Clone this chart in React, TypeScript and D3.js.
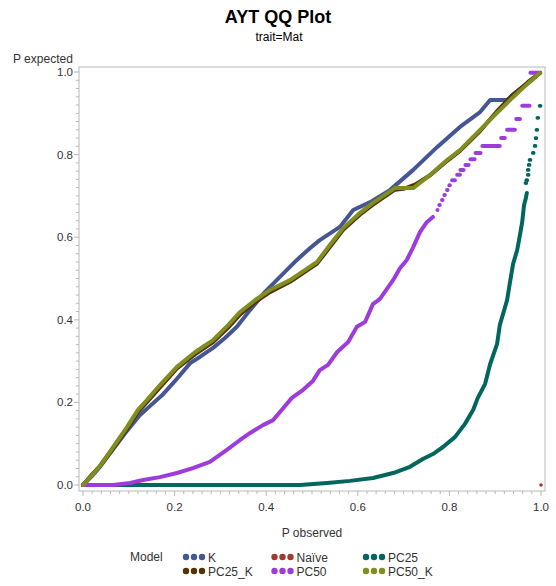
import React from "react";
import * as d3 from "d3";

const W = 556;
const H = 586;

const titleText = "AYT QQ Plot";
const subtitleText = "trait=Mat";
const xLabel = "P observed";
const yLabel = "P expected";
const tickValues = [0, 0.2, 0.4, 0.6, 0.8, 1.0];
const tickLabels = ["0.0", "0.2", "0.4", "0.6", "0.8", "1.0"];

const models = ["K", "Naïve", "PC25", "PC25_K", "PC50", "PC50_K"];
const modelColors = ["#445694", "#A23A2E", "#01665E", "#543005", "#9D3CDB", "#7F8E1F"];

// [P observed, P expected]
const seriesK: [number, number][] = [
  [0, 0], [0.02, 0.022], [0.037, 0.044], [0.066, 0.087], [0.096, 0.131], [0.124, 0.169],
  [0.146, 0.191], [0.175, 0.22], [0.201, 0.252], [0.234, 0.295], [0.255, 0.31], [0.284, 0.332],
  [0.31, 0.356], [0.336, 0.383], [0.365, 0.424], [0.397, 0.467], [0.43, 0.504], [0.467, 0.545],
  [0.496, 0.574], [0.517, 0.593], [0.561, 0.625], [0.59, 0.666], [0.627, 0.685], [0.67, 0.714],
  [0.721, 0.763], [0.773, 0.818], [0.823, 0.867], [0.867, 0.903], [0.889, 0.932], [0.926, 0.932],
  [0.943, 0.949], [0.972, 0.973], [0.998, 0.998],
];

const seriesNaive: [number, number][] = [[1.0, 0.0]];

const seriesPC25: [number, number][] = [
  [0, 0], [0.474, 0], [0.533, 0.005], [0.583, 0.01], [0.633, 0.017], [0.677, 0.029],
  [0.714, 0.044], [0.742, 0.063], [0.764, 0.075], [0.786, 0.092], [0.812, 0.116], [0.834, 0.148],
  [0.852, 0.182], [0.862, 0.211], [0.878, 0.245], [0.889, 0.293], [0.904, 0.341], [0.91, 0.387],
  [0.926, 0.448], [0.932, 0.489], [0.939, 0.535], [0.948, 0.569], [0.954, 0.605], [0.959, 0.637],
  [0.963, 0.678], [0.967, 0.695], [0.969, 0.707],
];
const seriesPC25Sparse: [number, number][] = [
  [0.967, 0.731], [0.969, 0.738], [0.972, 0.751], [0.972, 0.763], [0.974, 0.775], [0.976, 0.787],
  [0.983, 0.804], [0.987, 0.821], [0.989, 0.84], [0.991, 0.86], [0.993, 0.889], [0.998, 0.918],
];

const seriesPC25K: [number, number][] = [
  [0, 0], [0.02, 0.026], [0.037, 0.046], [0.066, 0.089], [0.096, 0.136], [0.12, 0.177],
  [0.14, 0.201], [0.168, 0.236], [0.205, 0.282], [0.245, 0.317], [0.284, 0.346], [0.317, 0.381],
  [0.343, 0.413], [0.376, 0.443], [0.408, 0.467], [0.452, 0.492], [0.511, 0.536], [0.539, 0.576],
  [0.568, 0.618], [0.605, 0.655], [0.633, 0.679], [0.681, 0.715], [0.703, 0.718], [0.725, 0.727],
  [0.758, 0.75], [0.795, 0.785], [0.823, 0.809], [0.867, 0.857], [0.904, 0.905], [0.939, 0.945],
  [0.972, 0.976], [0.998, 0.998],
];

const seriesPC50: [number, number][] = [
  [0, 0], [0.066, 0], [0.103, 0.005], [0.131, 0.012], [0.168, 0.019], [0.205, 0.029],
  [0.24, 0.041], [0.277, 0.056], [0.314, 0.085], [0.343, 0.109], [0.365, 0.126], [0.393, 0.145],
  [0.415, 0.157], [0.437, 0.186], [0.456, 0.211], [0.48, 0.23], [0.502, 0.252], [0.517, 0.278],
  [0.535, 0.291], [0.555, 0.322], [0.579, 0.346], [0.598, 0.383], [0.616, 0.395], [0.633, 0.438],
  [0.648, 0.45], [0.677, 0.496], [0.692, 0.525], [0.707, 0.545], [0.721, 0.576], [0.736, 0.613],
  [0.751, 0.637], [0.764, 0.649],
];
// tied runs: [P observed first, P observed last, P expected]
const seriesPC50Runs: [number, number, number][] = [
  [0.774, 0.774, 0.666], [0.778, 0.779, 0.678], [0.784, 0.785, 0.69], [0.789, 0.79, 0.702],
  [0.795, 0.796, 0.714], [0.8, 0.801, 0.726], [0.806, 0.812, 0.738], [0.817, 0.823, 0.751],
  [0.824, 0.831, 0.763], [0.835, 0.842, 0.775], [0.846, 0.855, 0.789], [0.857, 0.868, 0.804],
  [0.872, 0.91, 0.821], [0.913, 0.921, 0.84], [0.926, 0.943, 0.86], [0.946, 0.954, 0.886],
  [0.959, 0.975, 0.918], [0.977, 0.997, 0.998],
];

const seriesPC50K: [number, number][] = [
  [0, 0], [0.02, 0.024], [0.037, 0.046], [0.066, 0.092], [0.096, 0.14], [0.12, 0.182],
  [0.14, 0.206], [0.168, 0.242], [0.205, 0.286], [0.245, 0.322], [0.284, 0.351], [0.317, 0.387],
  [0.343, 0.419], [0.376, 0.448], [0.408, 0.472], [0.452, 0.496], [0.511, 0.54], [0.539, 0.581],
  [0.568, 0.622], [0.605, 0.659], [0.633, 0.683], [0.681, 0.719], [0.721, 0.719], [0.758, 0.751],
  [0.795, 0.787], [0.823, 0.811], [0.867, 0.86], [0.904, 0.901], [0.939, 0.939], [0.972, 0.973],
  [0.998, 0.998],
];

const FONT = "'Liberation Sans', Arial, Helvetica, sans-serif";
const FRAME = "#b8b8b8";
const TEXT = "#333333";
const SW = 4;

export default function App() {
  const frame = { left: 79, right: 545, top: 67, bottom: 491 };
  const x = d3.scaleLinear().domain([0, 1]).range([83, 541]);
  const y = d3.scaleLinear().domain([0, 1]).range([485, 72]);
  const line = d3
    .line<[number, number]>()
    .x((d) => x(d[0]))
    .y((d) => y(d[1]));

  const minor = d3.range(0, 1.0001, 0.02).filter((v) => Math.abs(v * 5 - Math.round(v * 5)) > 1e-6);

  const pathProps = (c: string) => ({
    fill: "none",
    stroke: c,
    strokeWidth: SW,
    strokeLinejoin: "round" as const,
    strokeLinecap: "round" as const,
  });

  const legendRows = [
    [0, 1, 2],
    [3, 4, 5],
  ];
  const legendCols = [186, 274.5, 366];
  const legendRowY = [557, 571];

  return (
    <svg
      width={W}
      height={H}
      style={{ position: "absolute", left: 0, top: 0, background: "#fff" }}
      fontFamily={FONT}
    >
      <rect x={0} y={0} width={W} height={H} fill="#fff" />
      <text x={278} y={23} textAnchor="middle" fontSize={18} fontWeight="bold" fill="#000">
        {titleText}
      </text>
      <text x={279} y={41} textAnchor="middle" fontSize={12} fill="#000">
        {subtitleText}
      </text>
      <text x={13} y={63} fontSize={12} fill={TEXT}>
        {yLabel}
      </text>

      {/* frame */}
      <rect
        x={frame.left}
        y={frame.top}
        width={frame.right - frame.left}
        height={frame.bottom - frame.top}
        fill="none"
        stroke={FRAME}
        strokeWidth={1}
      />

      {/* y ticks */}
      {tickValues.map((v, i) => (
        <g key={"yt" + i}>
          <line x1={frame.left - 5} x2={frame.left} y1={y(v)} y2={y(v)} stroke={FRAME} />
          <text x={frame.left - 6} y={y(v) + 4} textAnchor="end" fontSize={11.5} fill={TEXT}>
            {tickLabels[i]}
          </text>
        </g>
      ))}
      {minor.map((v, i) => (
        <line key={"ym" + i} x1={frame.left - 3} x2={frame.left} y1={y(v)} y2={y(v)} stroke={FRAME} />
      ))}

      {/* x ticks */}
      {tickValues.map((v, i) => (
        <g key={"xt" + i}>
          <line x1={x(v)} x2={x(v)} y1={frame.bottom} y2={frame.bottom + 5} stroke={FRAME} />
          <text x={x(v)} y={frame.bottom + 20} textAnchor="middle" fontSize={11.5} fill={TEXT}>
            {tickLabels[i]}
          </text>
        </g>
      ))}
      {minor.map((v, i) => (
        <line key={"xm" + i} x1={x(v)} x2={x(v)} y1={frame.bottom} y2={frame.bottom + 3} stroke={FRAME} />
      ))}
      <text x={312} y={537} textAnchor="middle" fontSize={12} fill={TEXT}>
        {xLabel}
      </text>

      {/* series, drawn in group order */}
      <path d={line(seriesK) || ""} {...pathProps(modelColors[0])} />
      {seriesNaive.map((d, i) => (
        <circle key={"nv" + i} cx={x(d[0])} cy={y(d[1])} r={1.8} fill={modelColors[1]} />
      ))}
      <path d={line(seriesPC25) || ""} {...pathProps(modelColors[2])} />
      {seriesPC25Sparse.map((d, i) => (
        <line
          key={"p25s" + i}
          x1={x(d[0]) - 0.4}
          x2={x(d[0]) + 0.4}
          y1={y(d[1])}
          y2={y(d[1])}
          stroke={modelColors[2]}
          strokeWidth={3.8}
          strokeLinecap="round"
        />
      ))}
      <path d={line(seriesPC25K) || ""} {...pathProps(modelColors[3])} />
      <path d={line(seriesPC50) || ""} {...pathProps(modelColors[4])} />
      {seriesPC50Runs.map((d, i) => (
        <line
          key={"p50r" + i}
          x1={x(d[0])}
          x2={x(d[1])}
          y1={y(d[2])}
          y2={y(d[2])}
          stroke={modelColors[4]}
          strokeWidth={SW}
          strokeLinecap="round"
        />
      ))}
      <path d={line(seriesPC50K) || ""} {...pathProps(modelColors[5])} />

      {/* legend */}
      <text x={130} y={legendRowY[0] + 4} fontSize={12} fill={TEXT}>
        Model
      </text>
      {legendRows.map((row, ri) =>
        row.map((mi, ci) => {
          const cx = legendCols[ci];
          const cy = legendRowY[ri];
          return (
            <g key={"lg" + mi}>
              {[0, 8, 16].map((dx) => (
                <circle key={dx} cx={cx + dx} cy={cy} r={3.2} fill={modelColors[mi]} />
              ))}
              <text x={cx + 22} y={cy + 4.5} fontSize={12} fill={TEXT}>
                {models[mi]}
              </text>
            </g>
          );
        })
      )}
    </svg>
  );
}
